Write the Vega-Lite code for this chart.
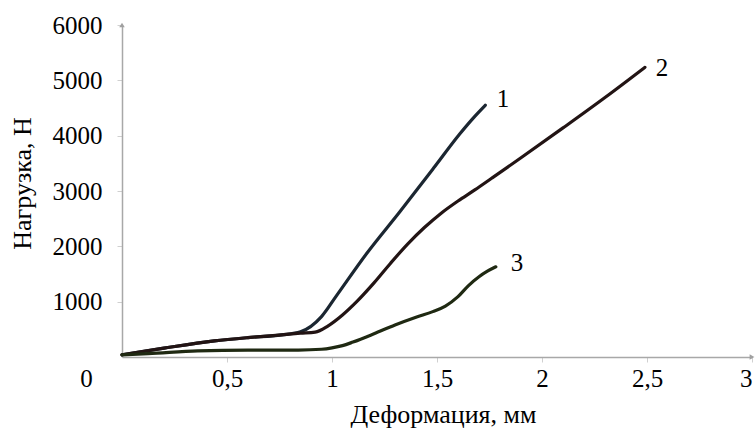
{
  "$schema": "https://vega.github.io/schema/vega-lite/v6.json",
  "width": 630,
  "height": 332,
  "autosize": {"type": "none"},
  "padding": {"left": 122, "top": 25, "right": 3, "bottom": 77},
  "background": "white",
  "config": {
    "view": {"stroke": null},
    "font": "Liberation Serif",
    "axis": {
      "labelFont": "Liberation Serif",
      "titleFont": "Liberation Serif",
      "labelColor": "#000000",
      "titleColor": "#000000",
      "labelFontSize": 25,
      "titleFontSize": 26,
      "titleFontWeight": "normal",
      "domainColor": "#a8a8a8",
      "domainWidth": 1.5,
      "tickColor": "#d0d0d0",
      "tickSize": 5,
      "grid": false
    }
  },
  "datasets": {
    "curves": [
      {"series": "1", "x": 0, "y": 40},
      {"series": "1", "x": 0.2, "y": 160},
      {"series": "1", "x": 0.44, "y": 290},
      {"series": "1", "x": 0.6, "y": 350},
      {"series": "1", "x": 0.76, "y": 400},
      {"series": "1", "x": 0.85, "y": 455},
      {"series": "1", "x": 0.95, "y": 730},
      {"series": "1", "x": 1.02, "y": 1100},
      {"series": "1", "x": 1.165, "y": 1870},
      {"series": "1", "x": 1.324, "y": 2630},
      {"series": "1", "x": 1.483, "y": 3410},
      {"series": "1", "x": 1.61, "y": 4040},
      {"series": "1", "x": 1.68, "y": 4350},
      {"series": "1", "x": 1.73, "y": 4550},
      {"series": "2", "x": 0, "y": 40},
      {"series": "2", "x": 0.2, "y": 160},
      {"series": "2", "x": 0.44, "y": 290},
      {"series": "2", "x": 0.6, "y": 350},
      {"series": "2", "x": 0.76, "y": 400},
      {"series": "2", "x": 0.85, "y": 430},
      {"series": "2", "x": 0.92, "y": 450},
      {"series": "2", "x": 0.98, "y": 560},
      {"series": "2", "x": 1.05, "y": 760},
      {"series": "2", "x": 1.12, "y": 1010},
      {"series": "2", "x": 1.2, "y": 1340},
      {"series": "2", "x": 1.28, "y": 1700},
      {"series": "2", "x": 1.36, "y": 2040},
      {"series": "2", "x": 1.44, "y": 2340},
      {"series": "2", "x": 1.52, "y": 2600},
      {"series": "2", "x": 1.6, "y": 2820},
      {"series": "2", "x": 1.68, "y": 3020},
      {"series": "2", "x": 1.76, "y": 3230},
      {"series": "2", "x": 1.9, "y": 3600},
      {"series": "2", "x": 2.1, "y": 4140},
      {"series": "2", "x": 2.3, "y": 4690},
      {"series": "2", "x": 2.49, "y": 5235},
      {"series": "3", "x": 0, "y": 40},
      {"series": "3", "x": 0.125, "y": 60},
      {"series": "3", "x": 0.36, "y": 110},
      {"series": "3", "x": 0.6, "y": 125},
      {"series": "3", "x": 0.84, "y": 125},
      {"series": "3", "x": 0.95, "y": 140},
      {"series": "3", "x": 1.0, "y": 165},
      {"series": "3", "x": 1.05, "y": 205},
      {"series": "3", "x": 1.1, "y": 270},
      {"series": "3", "x": 1.2, "y": 420},
      {"series": "3", "x": 1.3, "y": 580},
      {"series": "3", "x": 1.4, "y": 720},
      {"series": "3", "x": 1.48, "y": 820},
      {"series": "3", "x": 1.54, "y": 920},
      {"series": "3", "x": 1.6, "y": 1090},
      {"series": "3", "x": 1.65, "y": 1290},
      {"series": "3", "x": 1.7, "y": 1450},
      {"series": "3", "x": 1.74, "y": 1550},
      {"series": "3", "x": 1.78, "y": 1630}
    ],
    "labels": [
      {"x": 1.814, "y": 4660, "t": "1"},
      {"x": 2.571, "y": 5220, "t": "2"},
      {"x": 1.881, "y": 1700, "t": "3"}
    ],
    "arrows": [
      {"x": 3, "y": 0, "axis": "x"},
      {"x": 0, "y": 6000, "axis": "y"}
    ]
  },
  "encoding": {
    "x": {
      "field": "x",
      "type": "quantitative",
      "scale": {"domain": [0, 3], "nice": false, "zero": false},
      "axis": {
        "title": "Деформация, мм",
        "values": [0.5, 1, 1.5, 2, 2.5, 3],
        "labelExpr": "replace(format(datum.value, '~g'), '.', ',')",
        "labelPadding": 4,
        "titleX": 321,
        "titleY": 57,
        "titleBaseline": "middle",
        "titleAnchor": "middle",
        "titleAlign": "center"
      }
    },
    "y": {
      "field": "y",
      "type": "quantitative",
      "scale": {"domain": [0, 6000], "nice": false},
      "axis": {
        "title": "Нагрузка, Н",
        "values": [0, 1000, 2000, 3000, 4000, 5000, 6000],
        "format": "d",
        "labelAlign": {"condition": {"test": "datum.value === 0", "value": "center"}, "value": "right"},
        "labelPadding": {"condition": {"test": "datum.value === 0", "value": 36}, "value": 15},
        "labelOffset": {"condition": {"test": "datum.value === 0", "value": 21}, "value": 0},
        "tickSize": {"condition": {"test": "datum.value === 0", "value": 0}, "value": 5},
        "titleX": -100,
        "titleY": 158,
        "titleBaseline": "middle"
      }
    }
  },
  "layer": [
    {
      "data": {"name": "curves"},
      "mark": {"type": "line", "interpolate": "monotone", "strokeWidth": 3.2, "strokeCap": "round"},
      "encoding": {
        "color": {
          "field": "series",
          "type": "nominal",
          "scale": {"domain": ["1", "2", "3"], "range": ["#1b2631", "#221414", "#1f2912"]},
          "legend": null
        }
      }
    },
    {
      "data": {"name": "labels"},
      "mark": {"type": "text", "font": "Liberation Serif", "fontSize": 25, "color": "#000000", "align": "center", "baseline": "middle"},
      "encoding": {"text": {"field": "t", "type": "nominal"}}
    },
    {
      "data": {"name": "arrows"},
      "mark": {"type": "point", "filled": true, "size": 30, "color": "#a0a0a0", "opacity": 1},
      "encoding": {
        "shape": {
          "field": "axis",
          "type": "nominal",
          "scale": {"domain": ["x", "y"], "range": ["triangle-right", "triangle-up"]},
          "legend": null
        }
      }
    }
  ]
}
